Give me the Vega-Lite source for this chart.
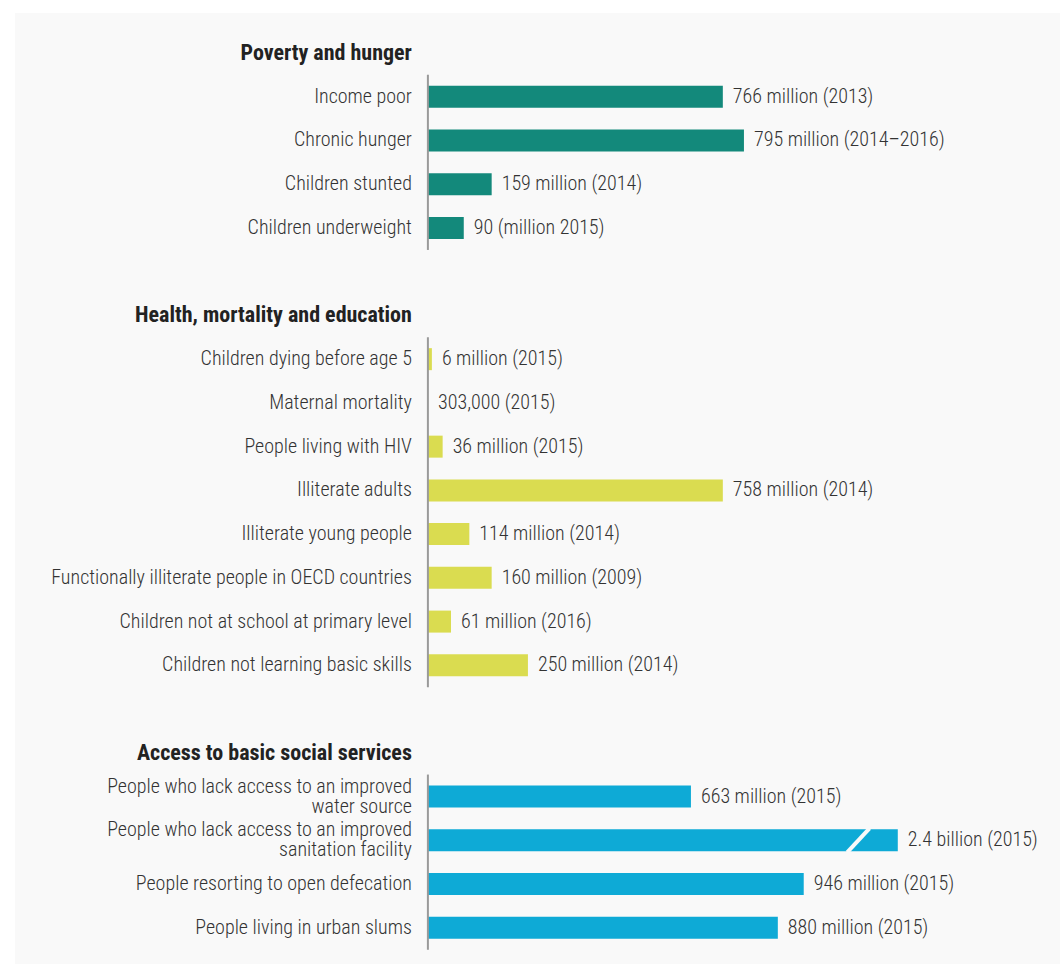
{
  "$schema": "https://vega.github.io/schema/vega-lite/v6.json",
  "width": 1045,
  "height": 951,
  "padding": {"left": 15, "top": 13, "right": 0, "bottom": 0},
  "autosize": {"type": "none"},
  "background": "white",
  "view": {"fill": "#f9f9f9", "stroke": null},
  "config": {"font": "Roboto Condensed, Liberation Sans Narrow, Arial Narrow, sans-serif"},
  "data": {
    "values": [
      {"slot": 0, "kind": "header", "group": "Poverty and hunger", "label": "Poverty and hunger"},
      {"slot": 1, "kind": "row", "group": "Poverty and hunger", "label": "Income poor", "value": 740, "text": "766 million (2013)"},
      {"slot": 2, "kind": "row", "group": "Poverty and hunger", "label": "Chronic hunger", "value": 793, "text": "795 million (2014–2016)"},
      {"slot": 3, "kind": "row", "group": "Poverty and hunger", "label": "Children stunted", "value": 160, "text": "159 million (2014)"},
      {"slot": 4, "kind": "row", "group": "Poverty and hunger", "label": "Children underweight", "value": 90, "text": "90 (million 2015)"},
      {"slot": 6, "kind": "header", "group": "Health, mortality and education", "label": "Health, mortality and education"},
      {"slot": 7, "kind": "row", "group": "Health, mortality and education", "label": "Children dying before age 5", "value": 10, "text": "6 million (2015)"},
      {"slot": 8, "kind": "row", "group": "Health, mortality and education", "label": "Maternal mortality", "value": 0.303, "text": "303,000 (2015)"},
      {"slot": 9, "kind": "row", "group": "Health, mortality and education", "label": "People living with HIV", "value": 37, "text": "36 million (2015)"},
      {"slot": 10, "kind": "row", "group": "Health, mortality and education", "label": "Illiterate adults", "value": 740, "text": "758 million (2014)"},
      {"slot": 11, "kind": "row", "group": "Health, mortality and education", "label": "Illiterate young people", "value": 104, "text": "114 million (2014)"},
      {"slot": 12, "kind": "row", "group": "Health, mortality and education", "label": "Functionally illiterate people in OECD countries", "value": 160, "text": "160 million (2009)"},
      {"slot": 13, "kind": "row", "group": "Health, mortality and education", "label": "Children not at school at primary level", "value": 58, "text": "61 million (2016)"},
      {"slot": 14, "kind": "row", "group": "Health, mortality and education", "label": "Children not learning basic skills", "value": 251, "text": "250 million (2014)"},
      {"slot": 16, "kind": "header", "group": "Access to basic social services", "label": "Access to basic social services"},
      {"slot": 17, "kind": "row", "group": "Access to basic social services", "label": "People who lack access to an improved\nwater source", "value": 660, "text": "663 million (2015)"},
      {"slot": 18, "kind": "row", "group": "Access to basic social services", "label": "People who lack access to an improved\nsanitation facility", "value": 1179, "text": "2.4 billion (2015)", "breakFrom": 1052, "breakTo": 1108},
      {"slot": 19, "kind": "row", "group": "Access to basic social services", "label": "People resorting to open defecation", "value": 943, "text": "946 million (2015)"},
      {"slot": 20, "kind": "row", "group": "Access to basic social services", "label": "People living in urban slums", "value": 878, "text": "880 million (2015)"}
    ]
  },
  "encoding": {
    "y": {"field": "slot", "type": "quantitative", "axis": null, "scale": {"domain": [-0.80, 20.714], "reverse": true, "nice": false, "zero": false}}
  },
  "layer": [
    {
      "transform": [{"filter": "datum.kind == 'row'"}],
      "mark": {"type": "bar", "orient": "horizontal", "height": 22},
      "encoding": {
        "x": {"field": "value", "type": "quantitative", "axis": null, "scale": {"domain": [-1036, 1586], "nice": false, "zero": false}},
        "x2": {"datum": 0},
        "color": {"field": "group", "type": "nominal", "legend": null, "scale": {"domain": ["Poverty and hunger", "Health, mortality and education", "Access to basic social services"], "range": ["#13897b", "#dadc50", "#0eaad6"]}}
      }
    },
    {
      "transform": [{"filter": "isValid(datum.breakFrom)"}],
      "mark": {"type": "rule", "color": "#f9f9f9", "strokeWidth": 4, "yOffset": 12, "y2Offset": -12},
      "encoding": {
        "x": {"field": "breakFrom", "type": "quantitative"},
        "x2": {"field": "breakTo"},
        "y2": {"field": "slot"}
      }
    },
    {
      "transform": [{"filter": "datum.kind == 'row'"}],
      "mark": {"type": "rule", "color": "#9a9a9a", "strokeWidth": 2, "yOffset": -22, "y2Offset": 22},
      "encoding": {
        "x": {"datum": 0},
        "y": {"aggregate": "min", "field": "slot", "type": "quantitative"},
        "y2": {"aggregate": "max", "field": "slot"},
        "detail": {"field": "group"}
      }
    },
    {
      "transform": [{"filter": "datum.kind == 'row'"}],
      "mark": {"type": "text", "align": "left", "baseline": "middle", "dx": 10, "fontSize": 20, "fontWeight": 300, "color": "#333333"},
      "encoding": {
        "x": {"field": "value", "type": "quantitative"},
        "text": {"field": "text"}
      }
    },
    {
      "transform": [{"filter": "datum.kind == 'row' && indexof(datum.label, '\\n') < 0"}],
      "mark": {"type": "text", "align": "right", "baseline": "middle", "dx": -16, "fontSize": 20, "fontWeight": 300, "color": "#333333"},
      "encoding": {
        "x": {"datum": 0},
        "text": {"field": "label"}
      }
    },
    {
      "transform": [{"filter": "datum.kind == 'row' && indexof(datum.label, '\\n') >= 0"}],
      "mark": {"type": "text", "align": "right", "baseline": "middle", "dx": -16, "dy": -10, "fontSize": 20, "fontWeight": 300, "color": "#333333", "lineBreak": "\n", "lineHeight": 20},
      "encoding": {
        "x": {"datum": 0},
        "text": {"field": "label"}
      }
    },
    {
      "transform": [{"filter": "datum.kind == 'header'"}],
      "mark": {"type": "text", "align": "right", "baseline": "middle", "dx": -16, "fontSize": 22, "fontWeight": "bold", "color": "#222222"},
      "encoding": {
        "x": {"datum": 0},
        "text": {"field": "label"}
      }
    }
  ]
}
